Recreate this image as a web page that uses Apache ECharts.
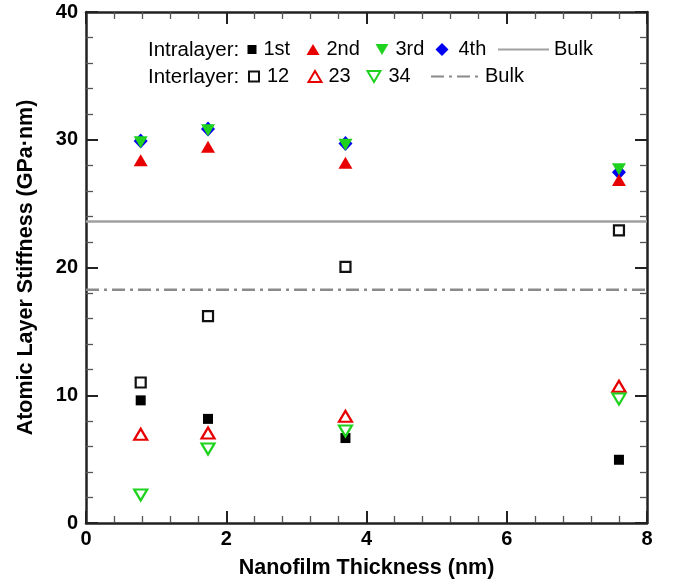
<!DOCTYPE html>
<html>
<head>
<meta charset="utf-8">
<script src="https://cdn.jsdelivr.net/npm/echarts@6/dist/echarts.min.js"></script>
<style>
  html, body { margin: 0; padding: 0; background: #fff; }
  #chart { width: 673px; height: 584px; }
</style>
</head>
<body>
<div id="chart"></div>
<script>
// film thickness (nm) for the four samples
const thickness = [0.78, 1.74, 3.7, 7.6];

// intralayer stiffness (GPa·nm)
const intra1st = [9.6, 8.15, 6.65, 4.95];
const intra2nd = [28.4, 29.45, 28.2, 26.85];
const intra3rd = [29.8, 30.75, 29.6, 27.7];
const intra4th = [29.9, 30.85, 29.7, 27.45];

// interlayer stiffness (GPa·nm)
const inter12 = [11.0, 16.2, 20.05, 22.9];
const inter23 = [6.95, 7.05, 8.35, 10.7];
const inter34 = [2.2, 5.8, 7.2, 9.7];

// bulk reference values
const bulkIntra = 23.6;
const bulkInter = 18.25;

const xRange = [0, 8];
const yRange = [0, 40];

const FONT = '"Liberation Sans", Arial, Helvetica, sans-serif';
const RED = '#e80000';
const GREEN = '#1ed21e';
const BLUE = '#0000f0';
const DOWN = 'path://M0,0L2,0L1,1.7Z';

const pts = (ys) => thickness.map((x, i) => [x, ys[i]]);
const flat = (y) => [[xRange[0], y], [xRange[1], y]];

const series = [
  { name: '1st', type: 'scatter', data: pts(intra1st), symbol: 'rect', symbolSize: 10,
    itemStyle: { color: '#000', opacity: 1 } },
  { name: '12', type: 'scatter', data: pts(inter12), symbol: 'rect', symbolSize: 10,
    itemStyle: { color: '#fff', borderColor: '#111', borderWidth: 2.2, opacity: 1 } },
  { name: '23', type: 'scatter', data: pts(inter23), symbol: 'triangle', symbolSize: [13, 11],
    itemStyle: { color: '#fff', borderColor: RED, borderWidth: 2.2, opacity: 1 } },
  { name: '34', type: 'scatter', data: pts(inter34), symbol: DOWN, symbolSize: [13, 11],
    itemStyle: { color: '#fff', borderColor: GREEN, borderWidth: 2.2, opacity: 1 } },
  { name: '4th', type: 'scatter', data: pts(intra4th), symbol: 'diamond', symbolSize: [14, 15],
    itemStyle: { color: BLUE, opacity: 1 } },
  { name: '3rd', type: 'scatter', data: pts(intra3rd), symbol: DOWN, symbolSize: [14, 12],
    itemStyle: { color: GREEN, opacity: 1 } },
  { name: '2nd', type: 'scatter', data: pts(intra2nd), symbol: 'triangle', symbolSize: [14, 12],
    itemStyle: { color: RED, opacity: 1 } },
  { name: 'bulkIntra', type: 'line', data: flat(bulkIntra), symbol: 'none', silent: true,
    lineStyle: { color: '#a0a0a0', width: 2.5 }, z: 1 },
  { name: 'bulkInter', type: 'line', data: flat(bulkInter), symbol: 'none', silent: true,
    lineStyle: { color: '#8a8a8a', width: 2.5, type: [13, 5, 3, 5] }, z: 1 }
];

// legend layout: [series, icon left, row centre y, icon w, icon h, extra text pad]
const legendLayout = [
  ['1st', 247.5, 49, 9, 9, 2],
  ['2nd', 306.5, 49, 13, 11, 2],
  ['3rd', 375.5, 49, 13, 11, 2],
  ['4th', 435.5, 49, 13, 13, 5],
  ['bulkIntra', 497, 49, 51, 14, 0],
  ['12', 248, 76, 10, 10, 3],
  ['23', 307.5, 76, 13, 11, 2],
  ['34', 366.5, 76, 13, 11, 3],
  ['bulkInter', 430, 76, 48, 14, 1]
];

const legends = legendLayout.map(([name, left, cy, w, h, pad]) => {
  const isLine = name.startsWith('bulk');
  const lg = {
    data: [name],
    left: left,
    top: cy - 9.5,
    padding: 0,
    itemWidth: w,
    itemHeight: h,
    selectedMode: false,
    formatter: (n) => isLine ? 'Bulk' : n,
    textStyle: { fontFamily: FONT, fontSize: 20, color: '#000', padding: [0, 0, 0, pad] }
  };
  if (isLine) lg.itemStyle = { opacity: 0 };
  return lg;
});

function axisBase(show) {
  return {
    axisLine: { show: true, onZero: false, lineStyle: { color: '#222', width: 2.5 } },
    axisTick: { show: true, inside: true, length: 12, lineStyle: { color: '#222', width: 2 } },
    minorTick: { show: true, splitNumber: 5, length: 7, lineStyle: { color: '#555', width: 1.3 } },
    splitLine: { show: false },
    axisLabel: {
      show: show, fontFamily: FONT, fontSize: 20, fontWeight: 'bold', color: '#000'
    }
  };
}

const titleStyle = { fontFamily: FONT, fontSize: 21.5, fontWeight: 'bold', color: '#000' };

const option = {
  animation: false,
  backgroundColor: '#fff',
  grid: { left: 86, right: 26, top: 12, bottom: 61, outerBoundsMode: 'none' },
  legend: legends,
  graphic: [
    { type: 'text', left: 148, top: 49 - 9.5,
      style: { text: 'Intralayer:', font: '20.5px ' + FONT, fill: '#000' } },
    { type: 'text', left: 148, top: 76 - 9.5,
      style: { text: 'Interlayer:', font: '20.5px ' + FONT, fill: '#000' } }
  ],
  xAxis: [
    Object.assign(axisBase(true), {
      type: 'value', min: xRange[0], max: xRange[1], interval: 2, position: 'bottom',
      name: 'Nanofilm Thickness (nm)', nameLocation: 'middle', nameGap: 34,
      nameTextStyle: titleStyle
    }),
    Object.assign(axisBase(false), {
      type: 'value', min: xRange[0], max: xRange[1], interval: 2, position: 'top'
    })
  ],
  yAxis: [
    Object.assign(axisBase(true), {
      type: 'value', min: yRange[0], max: yRange[1], interval: 10, position: 'left',
      name: 'Atomic Layer Stiffness (GPa\u00b7nm)', nameLocation: 'middle', nameGap: 49,
      nameTextStyle: titleStyle
    }),
    Object.assign(axisBase(false), {
      type: 'value', min: yRange[0], max: yRange[1], interval: 10, position: 'right'
    })
  ],
  series: series
};
option.xAxis[0].axisLabel.margin = 6;
option.yAxis[0].axisLabel.margin = 8;

const chart = echarts.init(document.getElementById('chart'), null, { renderer: 'canvas' });
chart.setOption(option);
</script>
</body>
</html>
